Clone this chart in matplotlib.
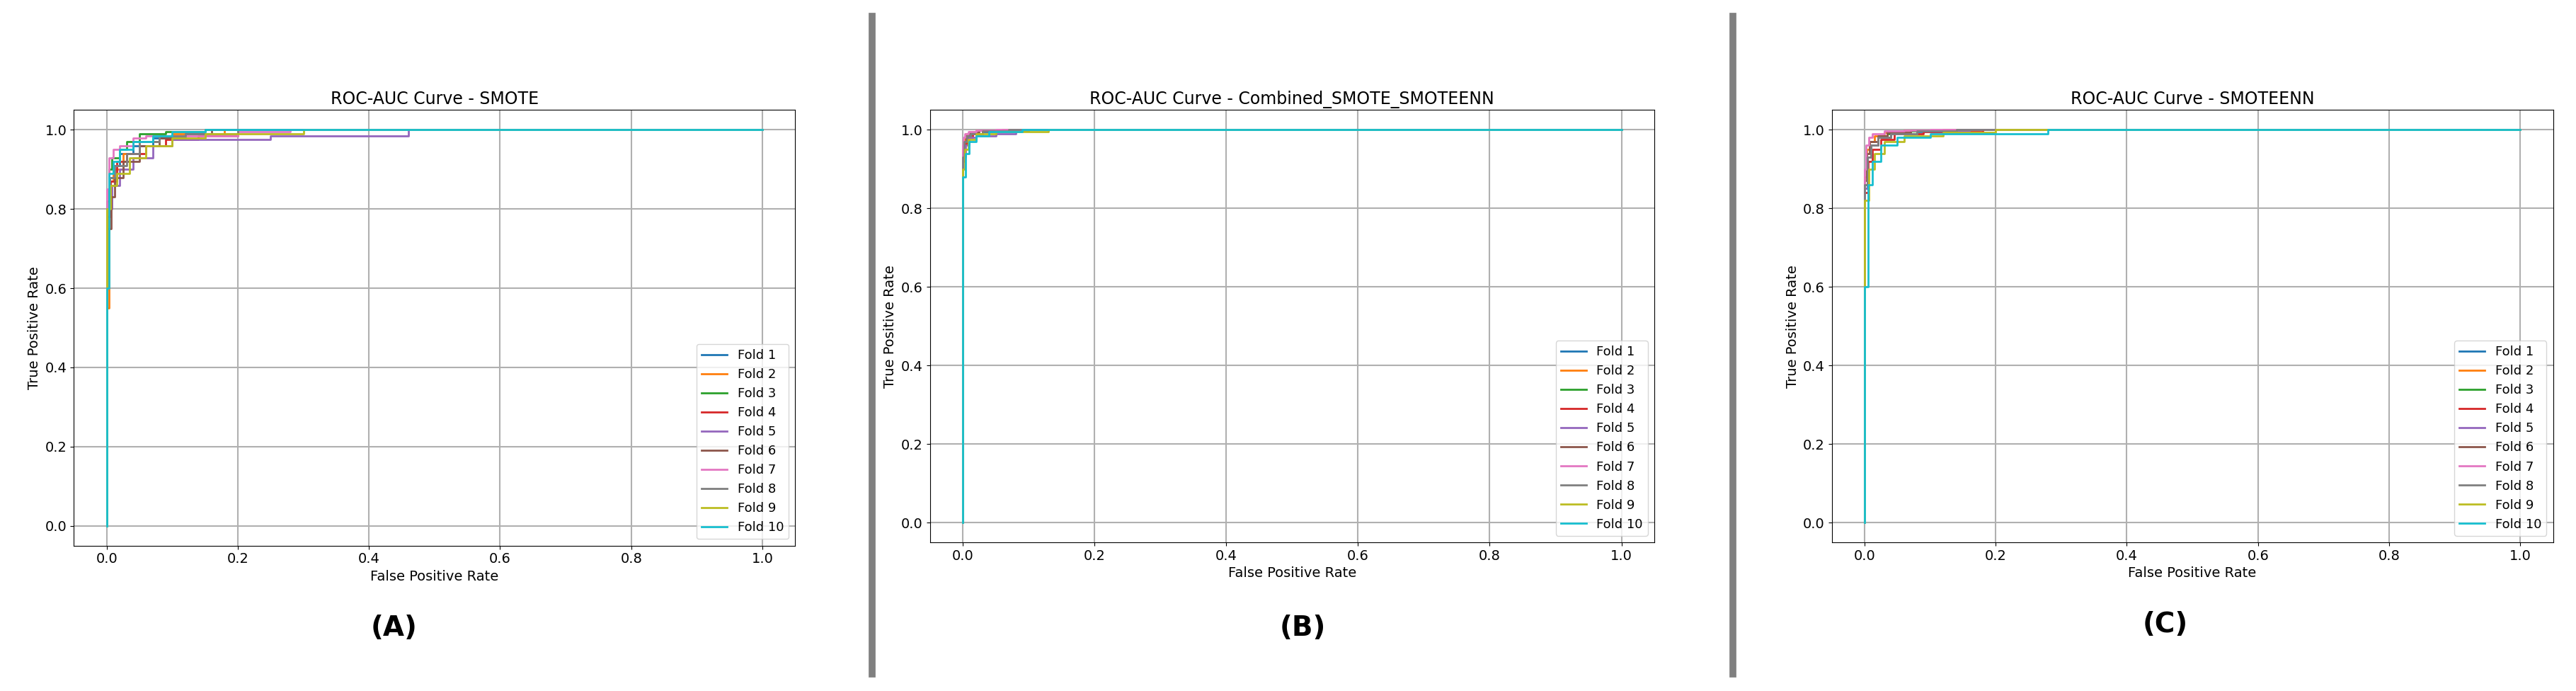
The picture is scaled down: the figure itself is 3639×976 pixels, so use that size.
import matplotlib
matplotlib.use("Agg")
import matplotlib.pyplot as plt
from matplotlib.lines import Line2D

titles = ["ROC-AUC Curve - SMOTE", "ROC-AUC Curve - Combined_SMOTE_SMOTEENN", "ROC-AUC Curve - SMOTEENN"]
panel_labels = ["(A)", "(B)", "(C)"]
fold_names = ["Fold %d" % i for i in range(1, 11)]

# Panel A (SMOTE) per-fold ROC points
smote_fpr = [
    [0, 0, 0.005, 0.01, 0.02, 0.04, 0.07, 0.12, 0.2, 1],
    [0, 0, 0.004, 0.01, 0.025, 0.05, 0.08, 0.1, 0.18, 1],
    [0, 0, 0.003, 0.008, 0.02, 0.03, 0.05, 0.09, 0.15, 1],
    [0, 0, 0.006, 0.015, 0.03, 0.06, 0.09, 0.14, 0.2, 1],
    [0, 0, 0.008, 0.02, 0.04, 0.07, 0.1, 0.25, 0.46, 1],
    [0, 0, 0.007, 0.012, 0.025, 0.05, 0.08, 0.12, 0.16, 1],
    [0, 0, 0.003, 0.01, 0.02, 0.04, 0.06, 0.2, 0.28, 1],
    [0, 0, 0.005, 0.012, 0.03, 0.05, 0.08, 0.12, 0.2, 1],
    [0, 0, 0.006, 0.015, 0.035, 0.06, 0.1, 0.15, 0.3, 1],
    [0, 0, 0.004, 0.01, 0.02, 0.04, 0.07, 0.1, 0.15, 1],
]
smote_tpr = [
    [0, 0.8, 0.88, 0.91, 0.94, 0.96, 0.98, 0.99, 1.0, 1.0],
    [0, 0.55, 0.87, 0.9, 0.94, 0.97, 0.985, 0.99, 1.0, 1.0],
    [0, 0.82, 0.9, 0.93, 0.95, 0.97, 0.99, 0.995, 1.0, 1.0],
    [0, 0.78, 0.87, 0.92, 0.94, 0.96, 0.975, 0.985, 1.0, 1.0],
    [0, 0.8, 0.86, 0.9, 0.93, 0.96, 0.975, 0.985, 1.0, 1.0],
    [0, 0.75, 0.83, 0.88, 0.92, 0.96, 0.98, 0.99, 1.0, 1.0],
    [0, 0.85, 0.93, 0.95, 0.96, 0.98, 0.985, 0.995, 1.0, 1.0],
    [0, 0.8, 0.88, 0.91, 0.94, 0.97, 0.985, 0.99, 1.0, 1.0],
    [0, 0.8, 0.86, 0.89, 0.93, 0.96, 0.98, 0.99, 1.0, 1.0],
    [0, 0.6, 0.89, 0.92, 0.95, 0.97, 0.985, 0.995, 1.0, 1.0],
]
# Panel B (Combined)
comb_fpr = [
    [0, 0, 0.002, 0.005, 0.01, 0.03, 0.08, 1],
    [0, 0, 0.001, 0.004, 0.01, 0.02, 0.06, 1],
    [0, 0, 0.002, 0.006, 0.012, 0.03, 0.1, 1],
    [0, 0, 0.003, 0.007, 0.015, 0.03, 0.07, 1],
    [0, 0, 0.004, 0.01, 0.02, 0.05, 0.08, 1],
    [0, 0, 0.002, 0.005, 0.01, 0.025, 0.06, 1],
    [0, 0, 0.001, 0.003, 0.008, 0.02, 0.05, 1],
    [0, 0, 0.002, 0.006, 0.012, 0.03, 0.07, 1],
    [0, 0, 0.003, 0.008, 0.02, 0.05, 0.13, 1],
    [0, 0, 0.004, 0.01, 0.02, 0.04, 0.09, 1],
]
comb_tpr = [
    [0, 0.93, 0.97, 0.985, 0.99, 0.995, 1.0, 1.0],
    [0, 0.95, 0.975, 0.99, 0.995, 0.998, 1.0, 1.0],
    [0, 0.94, 0.97, 0.985, 0.99, 0.997, 1.0, 1.0],
    [0, 0.92, 0.965, 0.98, 0.99, 0.996, 1.0, 1.0],
    [0, 0.93, 0.96, 0.98, 0.985, 0.99, 1.0, 1.0],
    [0, 0.94, 0.97, 0.985, 0.993, 0.998, 1.0, 1.0],
    [0, 0.96, 0.98, 0.99, 0.995, 0.999, 1.0, 1.0],
    [0, 0.93, 0.97, 0.985, 0.99, 0.996, 1.0, 1.0],
    [0, 0.9, 0.95, 0.975, 0.99, 0.995, 1.0, 1.0],
    [0, 0.88, 0.94, 0.97, 0.985, 0.995, 1.0, 1.0],
]
# Panel C (SMOTEENN)
senn_fpr = [
    [0, 0, 0.004, 0.01, 0.02, 0.04, 0.08, 0.15, 1],
    [0, 0, 0.003, 0.008, 0.015, 0.03, 0.06, 0.12, 1],
    [0, 0, 0.004, 0.01, 0.02, 0.035, 0.07, 0.13, 1],
    [0, 0, 0.005, 0.012, 0.025, 0.045, 0.09, 0.18, 1],
    [0, 0, 0.004, 0.01, 0.02, 0.04, 0.08, 0.16, 1],
    [0, 0, 0.003, 0.008, 0.02, 0.035, 0.07, 0.12, 1],
    [0, 0, 0.002, 0.006, 0.012, 0.03, 0.06, 0.1, 1],
    [0, 0, 0.004, 0.01, 0.02, 0.04, 0.08, 0.14, 1],
    [0, 0, 0.006, 0.015, 0.03, 0.06, 0.12, 0.2, 1],
    [0, 0, 0.005, 0.012, 0.025, 0.05, 0.1, 0.28, 1],
]
senn_tpr = [
    [0, 0.85, 0.93, 0.96, 0.98, 0.99, 0.995, 1.0, 1.0],
    [0, 0.88, 0.95, 0.97, 0.985, 0.993, 0.998, 1.0, 1.0],
    [0, 0.86, 0.93, 0.96, 0.98, 0.99, 0.996, 1.0, 1.0],
    [0, 0.84, 0.92, 0.95, 0.975, 0.99, 0.995, 1.0, 1.0],
    [0, 0.85, 0.93, 0.96, 0.98, 0.99, 0.996, 1.0, 1.0],
    [0, 0.87, 0.94, 0.97, 0.985, 0.993, 0.998, 1.0, 1.0],
    [0, 0.9, 0.96, 0.98, 0.99, 0.996, 0.999, 1.0, 1.0],
    [0, 0.86, 0.93, 0.96, 0.98, 0.99, 0.996, 1.0, 1.0],
    [0, 0.82, 0.9, 0.94, 0.97, 0.985, 0.993, 1.0, 1.0],
    [0, 0.6, 0.86, 0.92, 0.96, 0.98, 0.99, 1.0, 1.0],
]

W, H = 3639, 976
fig = plt.figure(figsize=(W / 100, H / 100), dpi=100)
s = W / 1568.0
axes_disp = [(45, 484, 67, 332), (566, 1007, 67, 330), (1115, 1554, 67, 330)]
label_disp = [(240, 382), (793, 382), (1318, 380)]
data = [(smote_fpr, smote_tpr), (comb_fpr, comb_tpr), (senn_fpr, senn_tpr)]

for i, ((x0, x1, y0, y1), (fx, ty)) in enumerate(zip(axes_disp, data)):
    ax = fig.add_axes([x0 * s / W, 1 - y1 * s / H, (x1 - x0) * s / W, (y1 - y0) * s / H])
    for k in range(10):
        ax.step(fx[k], ty[k], where="post", lw=2, label=fold_names[k])
    ax.set_xlim(-0.05, 1.05)
    ax.set_ylim(-0.05, 1.05)
    ax.set_xticks([0, 0.2, 0.4, 0.6, 0.8, 1.0])
    ax.set_yticks([0, 0.2, 0.4, 0.6, 0.8, 1.0])
    ax.grid(True, lw=1.5)
    ax.tick_params(labelsize=14)
    ax.set_title(titles[i], fontsize=17)
    ax.set_xlabel("False Positive Rate", fontsize=14)
    ax.set_ylabel("True Positive Rate", fontsize=14)
    ax.legend(loc="lower right", fontsize=13)
    lx, ly = label_disp[i]
    fig.text(lx * s / W, 1 - ly * s / H, panel_labels[i], ha="center", va="center",
             fontsize=28, fontweight="bold")

for xd in (531, 1055):
    fig.add_artist(Line2D([xd * s / W] * 2, [1 - 10 * s / H, 1 - 410 * s / H], color="#808080", lw=7))

fig.savefig("out.png", dpi=100)
